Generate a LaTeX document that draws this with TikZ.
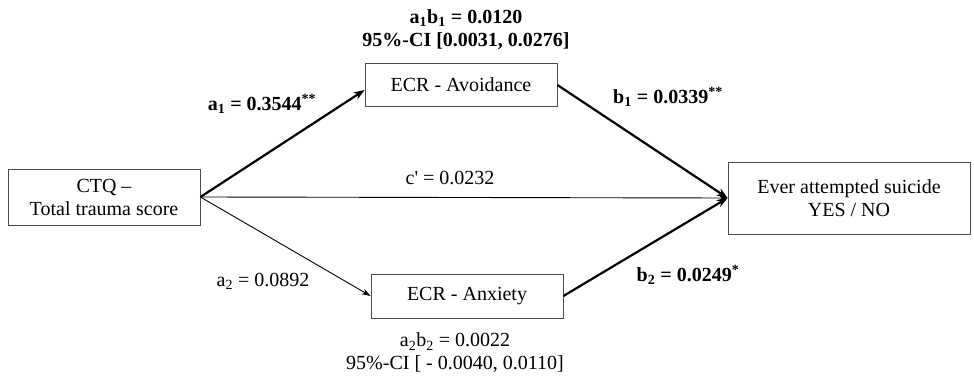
\documentclass[tikz,border=0pt]{standalone}
\usepackage{fontspec}
\setmainfont{Liberation Serif}
\usepackage{tikz}
\usetikzlibrary{arrows.meta,positioning,calc}

\tikzset{
  varbox/.style={draw=black!70, line width=0.8pt, fill=white, inner sep=0pt,
    minimum width=192pt, align=center, font=\fontsize{20}{23}\selectfont},
  coef/.style={font=\fontsize{20}{23}\selectfont, align=center, inner sep=1pt},
  strong/.style={line width=2.2pt, -{Stealth[length=11pt,width=8pt]}},
  weak/.style={line width=0.9pt, -{Stealth[length=9pt,width=6pt]}}
}

\begin{document}
\begin{tikzpicture}[x=1pt,y=-1pt]
    \useasboundingbox (0,0) rectangle (974,387);
    \node [varbox, minimum height=56pt] (ctq) at (104,197) {CTQ --\\Total trauma score};
    \node [varbox, minimum height=43pt] (avo) at (461,85) {ECR - Avoidance};
    \node [varbox, minimum height=44pt] (anx) at (467,296) {ECR - Anxiety};
    \node [varbox, minimum width=242pt, minimum height=72pt] (out) at (849,198) {Ever attempted suicide\\YES / NO};

    % paths
    \draw [strong] (ctq.east) -- ($(avo.west)+(0,5)$);
    \draw [weak] (ctq.east) -- (anx.west);
    \draw [weak] (ctq.east) -- (out.west);
    \draw [strong] (avo.east) -- (out.west);
    \draw [strong] (anx.east) -- (out.west);

    % coefficients
    \node [coef] (ind1) at (466,30) {\textbf{a\textsubscript{1}b\textsubscript{1} = 0.0120}\\\textbf{95\%-CI [0.0031, 0.0276]}};
    \node [coef] (a1) at (262,104) {\textbf{a\textsubscript{1} = 0.3544\textsuperscript{**}}};
    \node [coef] (b1) at (668,97) {\textbf{b\textsubscript{1} = 0.0339\textsuperscript{**}}};
    \node [coef] (cp) at (450,178) {c\textquotesingle{} = 0.0232};
    \node [coef] (a2) at (263,281) {a\textsubscript{2} = 0.0892};
    \node [coef] (b2) at (688,275) {\textbf{b\textsubscript{2} = 0.0249\textsuperscript{*}}};
    \node [coef] (ind2) at (455,353) {a\textsubscript{2}b\textsubscript{2} = 0.0022\\95\%-CI [ - 0.0040, 0.0110]};
\end{tikzpicture}
\end{document}
